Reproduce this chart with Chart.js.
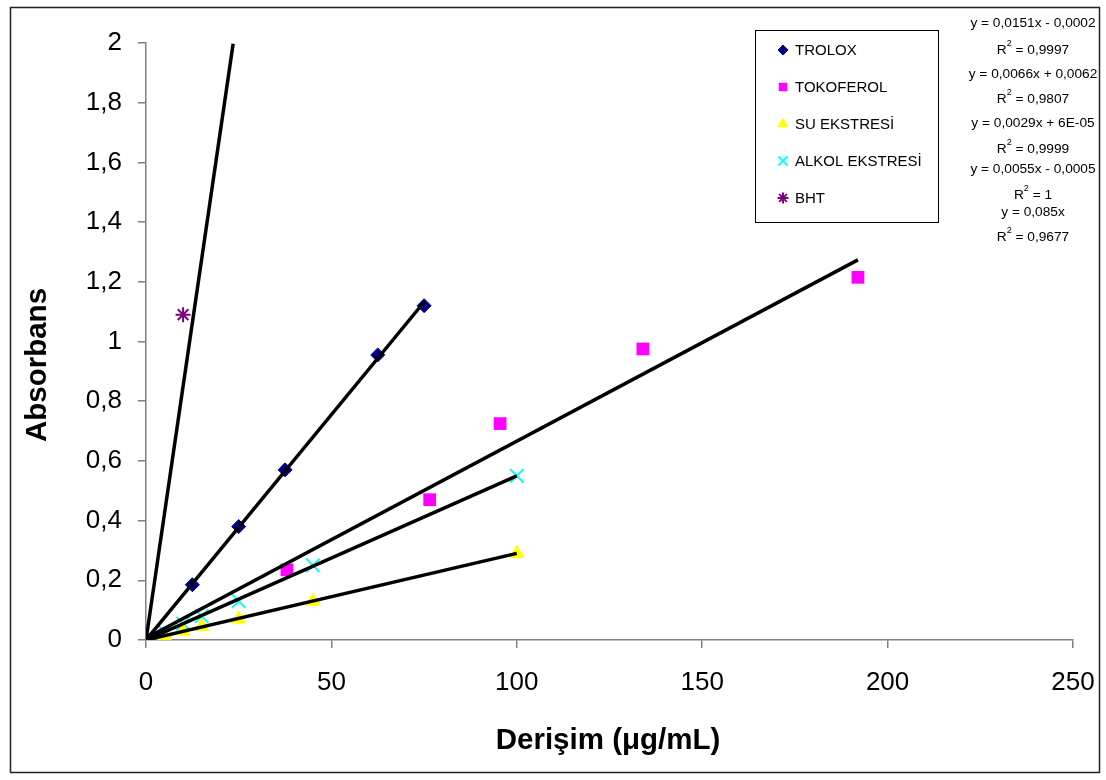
<!DOCTYPE html>
<html><head><meta charset="utf-8">
<script src="https://cdn.jsdelivr.net/npm/chart.js@4.4.0/dist/chart.umd.min.js"></script>
<style>html,body{margin:0;padding:0;background:#fff;}#wrap{width:1106px;height:780px;}</style>
</head><body><div id="wrap"><canvas id="c" width="1106" height="780"></canvas></div>
<script>
// ---- data ----
const seriesNames = ['TROLOX', 'TOKOFEROL', 'SU EKSTRESİ', 'ALKOL EKSTRESİ', 'BHT'];
const troloxX = [0, 12.5, 25, 37.5, 62.5, 75];
const troloxY = [0, 0.185, 0.38, 0.57, 0.955, 1.12];
const tokoferolX = [0, 38, 76.5, 95.5, 134, 192];
const tokoferolY = [0, 0.235, 0.47, 0.725, 0.975, 1.215];
const suX = [0, 5, 10, 15, 25, 45, 100];
const suY = [0, 0.015, 0.03, 0.045, 0.07, 0.13, 0.29];
const alkolX = [0, 5, 10, 15, 25, 45, 100];
const alkolY = [0, 0.027, 0.055, 0.08, 0.13, 0.25, 0.55];
const bhtX = [0, 10];
const bhtY = [0, 1.09];
const trendSlopes = [0.0151, 0.0066, 0.0029, 0.0055, 0.085];
const trendIntercepts = [-0.0002, 0.0062, 0.00006, -0.0005, 0];
const trendXEnd = [75, 192, 100, 100, 23.5];
const equationTexts = ['y = 0,0151x - 0,0002', 'y = 0,0066x + 0,0062', 'y = 0,0029x + 6E-05', 'y = 0,0055x - 0,0005', 'y = 0,085x'];
const r2Texts = ['0,9997', '0,9807', '0,9999', '1', '0,9677'];
const xTickValues = [0, 50, 100, 150, 200, 250];
const yTickValues = [0, 0.2, 0.4, 0.6, 0.8, 1, 1.2, 1.4, 1.6, 1.8, 2];
const xTitle = 'Derişim (μg/mL)';
const yTitle = 'Absorbans';

// ---- styles ----
const FONT = '"Liberation Sans", Arial, sans-serif';
const styles = [
  {pointStyle: 'rectRot', radius: 7, bg: '#000080', border: '#000080', bw: 1, lr: 5},
  {pointStyle: 'rect', radius: 9, bg: '#FF00FF', border: '#FF00FF', bw: 0, lr: 6},
  {pointStyle: 'triangle', radius: 8, bg: '#FFFF00', border: '#FFFF00', bw: 1, lr: 5.5},
  {pointStyle: 'crossRot', radius: 9.5, bg: '#00FFFF', border: '#00FFFF', bw: 2, lr: 6.5},
  {pointStyle: 'star', radius: 7.5, bg: '#800080', border: '#800080', bw: 2, lr: 5.5}
];
const xs = [troloxX, tokoferolX, suX, alkolX, bhtX];
const ys = [troloxY, tokoferolY, suY, alkolY, bhtY];

const datasets = [];
seriesNames.forEach((name, i) => {
  datasets.push({
    label: name,
    data: xs[i].map((x, k) => ({x: x, y: ys[i][k]})),
    showLine: false,
    pointStyle: styles[i].pointStyle,
    pointRadius: styles[i].radius,
    pointBackgroundColor: styles[i].bg,
    pointBorderColor: styles[i].border,
    pointBorderWidth: styles[i].bw,
    order: 2
  });
});
seriesNames.forEach((name, i) => {
  const x0 = 0, x1 = trendXEnd[i];
  datasets.push({
    label: name + ' trend',
    type: 'line',
    data: [{x: x0, y: trendSlopes[i] * x0 + trendIntercepts[i]}, {x: x1, y: trendSlopes[i] * x1 + trendIntercepts[i]}],
    borderColor: '#000',
    borderWidth: 3.5,
    pointRadius: 0,
    showLine: true,
    fill: false,
    order: 1
  });
});

const fmt = v => String(Number(v.toFixed(1))).replace('.', ',');

const decor = {
  id: 'decor',
  beforeDraw(chart) {
    const ctx = chart.ctx;
    ctx.save();
    ctx.fillStyle = '#fff';
    ctx.fillRect(0, 0, chart.width, chart.height);
    ctx.strokeStyle = '#222';
    ctx.lineWidth = 1.5;
    ctx.strokeRect(10.5, 7.5, 1089, 765);
    ctx.restore();
  },
  afterDraw(chart) {
    const ctx = chart.ctx;
    ctx.save();
    // axis titles
    ctx.fillStyle = '#000';
    ctx.font = 'bold 29.5px ' + FONT;
    ctx.textAlign = 'center';
    ctx.textBaseline = 'middle';
    ctx.fillText(xTitle, 608, 741);
    ctx.save();
    ctx.translate(38, 365);
    ctx.rotate(-Math.PI / 2);
    ctx.fillText(yTitle, 0, 0);
    ctx.restore();
    // legend box
    ctx.fillStyle = '#fff';
    ctx.fillRect(755, 30, 183, 192);
    ctx.strokeStyle = '#000';
    ctx.lineWidth = 1;
    ctx.strokeRect(755.5, 30.5, 183, 192);
    const legendY = [50, 87, 124, 161, 198];
    seriesNames.forEach((name, i) => {
      const s = styles[i];
      ctx.fillStyle = s.bg;
      ctx.strokeStyle = s.border;
      ctx.lineWidth = s.bw;
      Chart.helpers.drawPoint(ctx, {pointStyle: s.pointStyle, radius: s.lr, rotation: 0, borderWidth: s.bw}, 783, legendY[i]);
      ctx.fillStyle = '#000';
      ctx.font = '15px ' + FONT;
      ctx.textAlign = 'left';
      ctx.textBaseline = 'middle';
      ctx.fillText(name, 795, legendY[i] + 1);
    });
    // equations
    const eqY = [23, 74, 123, 169, 212];
    const r2Y = [50, 99, 149, 195, 237];
    const cx = 1033;
    const f = '13.7px ' + FONT;
    const fs = '9px ' + FONT;
    ctx.fillStyle = '#000';
    ctx.textBaseline = 'middle';
    equationTexts.forEach((t, i) => {
      ctx.font = f;
      ctx.textAlign = 'center';
      ctx.fillText(t, cx, eqY[i]);
      const rest = ' = ' + r2Texts[i];
      ctx.font = f;
      const wR = ctx.measureText('R').width;
      const wRest = ctx.measureText(rest).width;
      ctx.font = fs;
      const w2 = ctx.measureText('2').width;
      const total = wR + w2 + wRest;
      let x = cx - total / 2;
      ctx.textAlign = 'left';
      ctx.font = f;
      ctx.fillText('R', x, r2Y[i]);
      x += wR;
      ctx.font = fs;
      ctx.fillText('2', x, r2Y[i] - 6);
      x += w2;
      ctx.font = f;
      ctx.fillText(rest, x, r2Y[i]);
    });
    ctx.restore();
  }
};

new Chart(document.getElementById('c'), {
  type: 'scatter',
  data: {datasets},
  options: {
    responsive: false,
    animation: false,
    devicePixelRatio: 1,
    layout: {padding: {left: 10, top: 43, right: 33, bottom: 8}},
    plugins: {legend: {display: false}, tooltip: {enabled: false}},
    scales: {
      x: {
        type: 'linear', position: 'bottom', min: 0, max: 250,
        afterFit(s) { s.height = 132; s.paddingLeft = 0; s.paddingRight = 0; },
        afterBuildTicks(s) { s.ticks = xTickValues.map(v => ({value: v})); },
        ticks: {color: '#000', font: {family: FONT, size: 26}, padding: 19, maxRotation: 0, callback: v => fmt(v)},
        grid: {drawOnChartArea: false, drawTicks: true, tickLength: 8, color: '#808080', lineWidth: 1.5},
        border: {display: true, color: '#808080', width: 1.5},
        title: {display: false}
      },
      y: {
        type: 'linear', position: 'left', min: 0, max: 2,
        afterFit(s) { s.width = 136; s.paddingTop = 0; s.paddingBottom = 0; },
        afterBuildTicks(s) { s.ticks = yTickValues.map(v => ({value: v})); },
        ticks: {color: '#000', font: {family: FONT, size: 26}, padding: 16, callback: v => fmt(v)},
        grid: {drawOnChartArea: false, drawTicks: true, tickLength: 8, color: '#808080', lineWidth: 1.5},
        border: {display: true, color: '#808080', width: 1.5},
        title: {display: false}
      }
    }
  },
  plugins: [decor]
});
</script></body></html>
